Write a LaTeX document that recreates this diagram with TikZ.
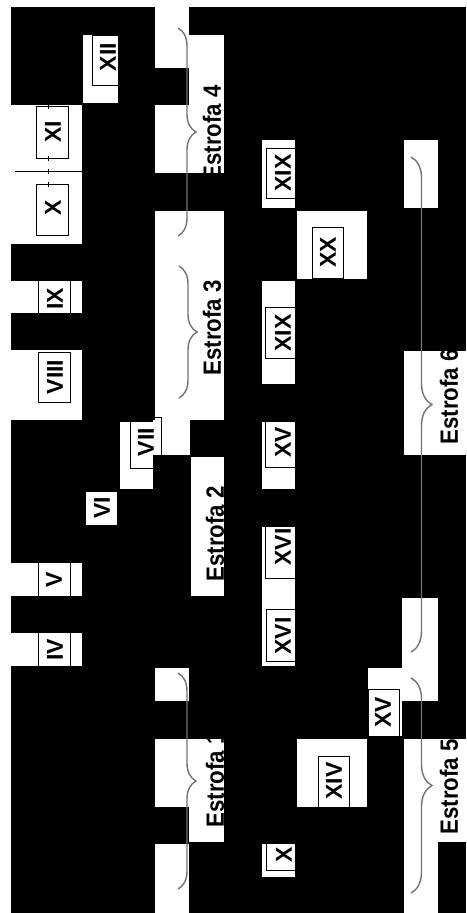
\documentclass[tikz,border=0pt]{standalone}
\usepackage{fontspec}
\setmainfont{Liberation Sans}
\usetikzlibrary{decorations.pathreplacing}
\tikzset{
  patch/.style={fill=white, draw=none},
  numeral/.style={rotate=90, inner sep=0pt, text=black, font=\fontsize{23}{23}\selectfont\bfseries},
  estrofa/.style={rotate=90, xscale=0.89, inner sep=0pt, text=black, font=\fontsize{25}{25}\selectfont\bfseries},
  numbox/.style={draw=black, line width=0.9pt},
  bracket/.style={decorate, decoration={brace, amplitude=#1}, draw=black!55, line width=1.4pt},
  bracket/.default=18pt,
  thinline/.style={draw=black, line width=0.8pt}
}
\begin{document}
\begin{tikzpicture}[x=1pt, y=-1pt]
\useasboundingbox (0,0) rectangle (466,913);
\fill[white] (0,0) rectangle (466,913);
\fill[black] (11,7) rectangle (466,913);
% white patches
\foreach \a/\b/\c/\d in {
  11/105/82/244, 11/281/82/313, 11/350/82/420, 11/563/82/596, 11/633/82/666,
  83/35/118/103, 120/422/153/489, 86/492/117/525,
  155/7/189/68, 189/35/224/173, 155/105/189/173, 155/211/224/420, 153/420/190/455,
  191/457/224/596, 155/668/189/701, 155/739/189/807, 189/739/224/842, 155/844/189/913,
  262/140/295/208, 262/281/295/384, 262/422/295/489, 262/527/295/666, 262/844/295/877,
  297/211/367/279, 297/739/367/807, 368/668/402/736,
  404/140/438/208, 404/351/466/455, 402/598/438/701, 368/668/438/701,
  404/739/466/842, 404/842/438/913}
  {\fill[patch] (\a,\b) rectangle (\c,\d);}
% boxes
\draw[numbox] (92,35) rectangle (124,85);
\draw[numbox] (36,106) rectangle (68,158);
\draw[numbox] (36,184) rectangle (68,235);
\draw[numbox] (38,275) rectangle (70,320);
\draw[numbox] (38,352) rectangle (70,402);
\draw[numbox] (130,417) rectangle (161,468);
\draw[numbox] (38,555) rectangle (70,605);
\draw[numbox] (38,625) rectangle (70,675);
\draw[numbox] (266,148) rectangle (300,198);
\draw[numbox] (312,227) rectangle (343,278);
\draw[numbox] (265,307) rectangle (300,358);
\draw[numbox] (265,417) rectangle (300,467);
\draw[numbox] (265,522) rectangle (300,578);
\draw[numbox] (266,609) rectangle (300,661);
\draw[numbox] (266,835) rectangle (300,870);
\draw[numbox] (318,756) rectangle (349,807);
\draw[numbox] (368.5,689) rectangle (399,736);
% line between XI and X
\coordinate (hlA) at (15,171);
\coordinate (hlB) at (82,171);
\draw[thinline] (hlA) -- (hlB);
\foreach \ty in {106,158,171,184}
  {\draw[thinline] (48,\ty-2.5) -- (48,\ty+2.5);}
% numerals
\node[numeral] (n12) at (108,57) {XII};
\node[numeral] (n11) at (53,132) {XI};
\node[numeral] (n10) at (53,208) {X};
\node[numeral] (n9) at (55,299) {IX};
\node[numeral] (n8) at (55,377) {VIII};
\node[numeral] (n7) at (146,442) {VII};
\node[numeral] (n6) at (102,508) {VI};
\node[numeral] (n5) at (54,580) {V};
\node[numeral] (n4) at (55,650) {IV};
\node[numeral] (n19a) at (283,173) {XIX};
\node[numeral] (n20) at (328,252) {XX};
\node[numeral] (n19b) at (283,333) {XIX};
\node[numeral] (n15a) at (283,442) {XV};
\node[numeral] (n16a) at (283,547) {XVI};
\node[numeral] (n16b) at (283,636) {XVI};
\node[numeral] (n10b) at (284,855) {X};
\node[numeral] (n14) at (334,781) {XIV};
\node[numeral] (n15b) at (383,712) {XV};
% estrofa labels
\node[estrofa] (e4) at (212,133) {Estrofa 4};
\node[estrofa] (e3) at (212,328) {Estrofa 3};
\node[estrofa] (e2) at (215,534) {Estrofa 2};
\node[estrofa] (e1) at (215,780) {Estrofa 1};
\node[estrofa] (e6) at (449,397) {Estrofa 6};
\node[estrofa] (e5) at (449,787) {Estrofa 5};
% braces
\coordinate (b4a) at (178,28);  \coordinate (b4b) at (178,236);
\coordinate (b3a) at (179,266); \coordinate (b3b) at (179,398);
\coordinate (b1a) at (178,673); \coordinate (b1b) at (178,889);
\coordinate (b6a) at (411,157); \coordinate (b6b) at (411,652);
\coordinate (b5a) at (411,678); \coordinate (b5b) at (411,893);
\draw[bracket] (b4a) -- (b4b);
\draw[bracket] (b3a) -- (b3b);
\draw[bracket] (b1a) -- (b1b);
\draw[bracket=21pt] (b6a) -- (b6b);
\draw[bracket=21pt] (b5a) -- (b5b);
\end{tikzpicture}
\end{document}
